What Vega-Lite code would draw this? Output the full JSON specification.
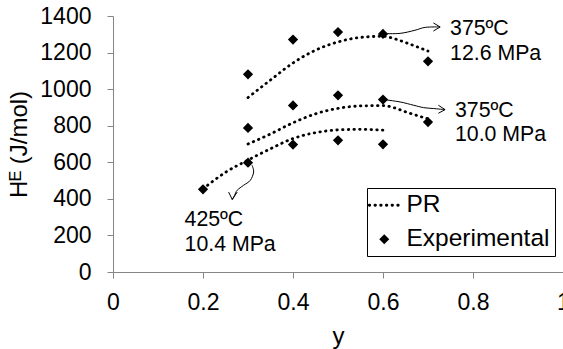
{
  "$schema": "https://vega.github.io/schema/vega-lite/v6.json",
  "width": 450,
  "height": 256,
  "autosize": {"type": "none"},
  "padding": {"left": 113, "top": 16, "right": 0, "bottom": 77},
  "background": "white",
  "config": {
    "font": "Liberation Sans",
    "view": {"stroke": null},
    "axis": {
      "grid": false,
      "domainColor": "#868686",
      "tickColor": "#868686",
      "tickSize": 6,
      "labelFontSize": 23,
      "labelColor": "black",
      "labelFlush": false,
      "labelOverlap": false,
      "titleFontSize": 24,
      "titleFontWeight": "normal",
      "titleColor": "black"
    }
  },
  "datasets": {
    "pr": [
      {"series": "12.6", "x": 0.30, "v": 954},
      {"series": "12.6", "x": 0.35, "v": 1050},
      {"series": "12.6", "x": 0.40, "v": 1143},
      {"series": "12.6", "x": 0.45, "v": 1213},
      {"series": "12.6", "x": 0.50, "v": 1258},
      {"series": "12.6", "x": 0.55, "v": 1283},
      {"series": "12.6", "x": 0.60, "v": 1289},
      {"series": "12.6", "x": 0.625, "v": 1276},
      {"series": "12.6", "x": 0.65, "v": 1255},
      {"series": "12.6", "x": 0.70, "v": 1208},
      {"series": "10.0", "x": 0.30, "v": 700},
      {"series": "10.0", "x": 0.35, "v": 755},
      {"series": "10.0", "x": 0.40, "v": 816},
      {"series": "10.0", "x": 0.45, "v": 865},
      {"series": "10.0", "x": 0.50, "v": 895},
      {"series": "10.0", "x": 0.55, "v": 908},
      {"series": "10.0", "x": 0.60, "v": 910},
      {"series": "10.0", "x": 0.625, "v": 898},
      {"series": "10.0", "x": 0.65, "v": 876},
      {"series": "10.0", "x": 0.70, "v": 838},
      {"series": "10.4", "x": 0.20, "v": 455},
      {"series": "10.4", "x": 0.25, "v": 545},
      {"series": "10.4", "x": 0.30, "v": 612},
      {"series": "10.4", "x": 0.35, "v": 674},
      {"series": "10.4", "x": 0.40, "v": 730},
      {"series": "10.4", "x": 0.45, "v": 762},
      {"series": "10.4", "x": 0.50, "v": 777},
      {"series": "10.4", "x": 0.55, "v": 780},
      {"series": "10.4", "x": 0.60, "v": 776}
    ],
    "exp": [
      {"series": "12.6", "x": 0.3, "v": 1081},
      {"series": "12.6", "x": 0.4, "v": 1271},
      {"series": "12.6", "x": 0.5, "v": 1312},
      {"series": "12.6", "x": 0.6, "v": 1302},
      {"series": "12.6", "x": 0.7, "v": 1152},
      {"series": "10.0", "x": 0.3, "v": 788},
      {"series": "10.0", "x": 0.4, "v": 911},
      {"series": "10.0", "x": 0.5, "v": 966},
      {"series": "10.0", "x": 0.6, "v": 943},
      {"series": "10.0", "x": 0.7, "v": 820},
      {"series": "10.4", "x": 0.2, "v": 452},
      {"series": "10.4", "x": 0.3, "v": 598},
      {"series": "10.4", "x": 0.4, "v": 697},
      {"series": "10.4", "x": 0.5, "v": 720},
      {"series": "10.4", "x": 0.6, "v": 698}
    ],
    "shafts": [
      {"id": "a1", "o": 1, "x": 0.601, "v": 1304},
      {"id": "a1", "o": 2, "x": 0.638, "v": 1305},
      {"id": "a1", "o": 3, "x": 0.671, "v": 1322},
      {"id": "a1", "o": 4, "x": 0.694, "v": 1338},
      {"id": "a1", "o": 5, "x": 0.727, "v": 1340},
      {"id": "a2", "o": 1, "x": 0.601, "v": 943},
      {"id": "a2", "o": 2, "x": 0.638, "v": 930},
      {"id": "a2", "o": 3, "x": 0.668, "v": 912},
      {"id": "a2", "o": 4, "x": 0.690, "v": 899},
      {"id": "a2", "o": 5, "x": 0.712, "v": 894},
      {"id": "a2", "o": 6, "x": 0.738, "v": 888},
      {"id": "a3", "o": 1, "x": 0.309, "v": 584},
      {"id": "a3", "o": 2, "x": 0.3125, "v": 547},
      {"id": "a3", "o": 3, "x": 0.305, "v": 501},
      {"id": "a3", "o": 4, "x": 0.290, "v": 474},
      {"id": "a3", "o": 5, "x": 0.276, "v": 447},
      {"id": "a3", "o": 6, "x": 0.270, "v": 419},
      {"id": "a3", "o": 7, "x": 0.265, "v": 396}
    ],
    "heads": [
      {"id": "h1", "o": 1, "x": 0.712, "v": 1362},
      {"id": "h1", "o": 2, "x": 0.727, "v": 1340},
      {"id": "h1", "o": 3, "x": 0.712, "v": 1318},
      {"id": "h2", "o": 1, "x": 0.723, "v": 912},
      {"id": "h2", "o": 2, "x": 0.738, "v": 888},
      {"id": "h2", "o": 3, "x": 0.723, "v": 868},
      {"id": "h3", "o": 1, "x": 0.257, "v": 437},
      {"id": "h3", "o": 2, "x": 0.265, "v": 396},
      {"id": "h3", "o": 3, "x": 0.276, "v": 437}
    ],
    "notes": [
      {"x": 0.749, "v": 1294, "label": "375ºC\n12.6 MPa"},
      {"x": 0.760, "v": 848, "label": "375ºC\n10.0 MPa"},
      {"x": 0.159, "v": 250, "label": "425ºC\n10.4 MPa"}
    ]
  },
  "encoding": {
    "x": {
      "field": "x",
      "type": "quantitative",
      "scale": {"domain": [0, 1], "nice": false, "zero": false, "padding": 0},
      "axis": {"values": [0, 0.2, 0.4, 0.6, 0.8, 1], "format": "~g", "title": "y", "labelPadding": 13, "titlePadding": 10}
    },
    "y": {
      "field": "v",
      "type": "quantitative",
      "scale": {"domain": [0, 1400], "nice": false, "padding": 0},
      "axis": {"values": [0, 200, 400, 600, 800, 1000, 1200, 1400], "format": "d", "title": "Hᴱ (J/mol)", "labelPadding": 16, "titlePadding": 8}
    }
  },
  "layer": [
    {
      "data": {"name": "pr"},
      "mark": {"type": "line", "strokeDash": [0.5, 5.2], "strokeWidth": 2.8, "strokeCap": "round", "interpolate": "monotone"},
      "encoding": {
        "detail": {"field": "series"},
        "color": {
          "datum": "PR",
          "scale": {"domain": ["PR", "Experimental"], "range": ["black", "black"]},
          "legend": {
            "orient": "none",
            "legendX": 254,
            "legendY": 172,
            "title": null,
            "strokeColor": "black",
            "fillColor": "white",
            "padding": 5,
            "labelFontSize": 24.5,
            "labelColor": "black",
            "labelOffset": 10,
            "rowPadding": 9,
            "symbolSize": 900,
            "symbolStrokeColor": "black",
            "encode": {
              "symbols": {
                "update": {
                  "shape": {"signal": "datum.value === 'PR' ? 'stroke' : 'diamond'"},
                  "size": {"signal": "datum.value === 'PR' ? 900 : 100"},
                  "strokeDash": {"signal": "datum.value === 'PR' ? [0.5, 5.2] : [1, 0]"},
                  "strokeWidth": {"signal": "datum.value === 'PR' ? 2.8 : 0"},
                  "strokeCap": {"value": "round"},
                  "fill": {"signal": "datum.value === 'PR' ? 'transparent' : 'black'"},
                  "stroke": {"value": "black"},
                  "opacity": {"value": 1}
                }
              }
            }
          }
        }
      }
    },
    {
      "data": {"name": "exp"},
      "mark": {"type": "point", "shape": "diamond", "filled": true, "size": 105, "opacity": 1},
      "encoding": {
        "color": {"datum": "Experimental"}
      }
    },
    {
      "data": {"name": "shafts"},
      "mark": {"type": "line", "color": "black", "strokeWidth": 1, "interpolate": "cardinal"},
      "encoding": {
        "detail": {"field": "id"},
        "order": {"field": "o", "type": "quantitative"}
      }
    },
    {
      "data": {"name": "heads"},
      "mark": {"type": "line", "color": "black", "strokeWidth": 1},
      "encoding": {
        "detail": {"field": "id"},
        "order": {"field": "o", "type": "quantitative"}
      }
    },
    {
      "data": {"name": "notes"},
      "mark": {"type": "text", "align": "left", "baseline": "alphabetic", "fontSize": 21.3, "lineBreak": "\n", "lineHeight": 24.3, "color": "black"},
      "encoding": {
        "text": {"field": "label"}
      }
    }
  ]
}
